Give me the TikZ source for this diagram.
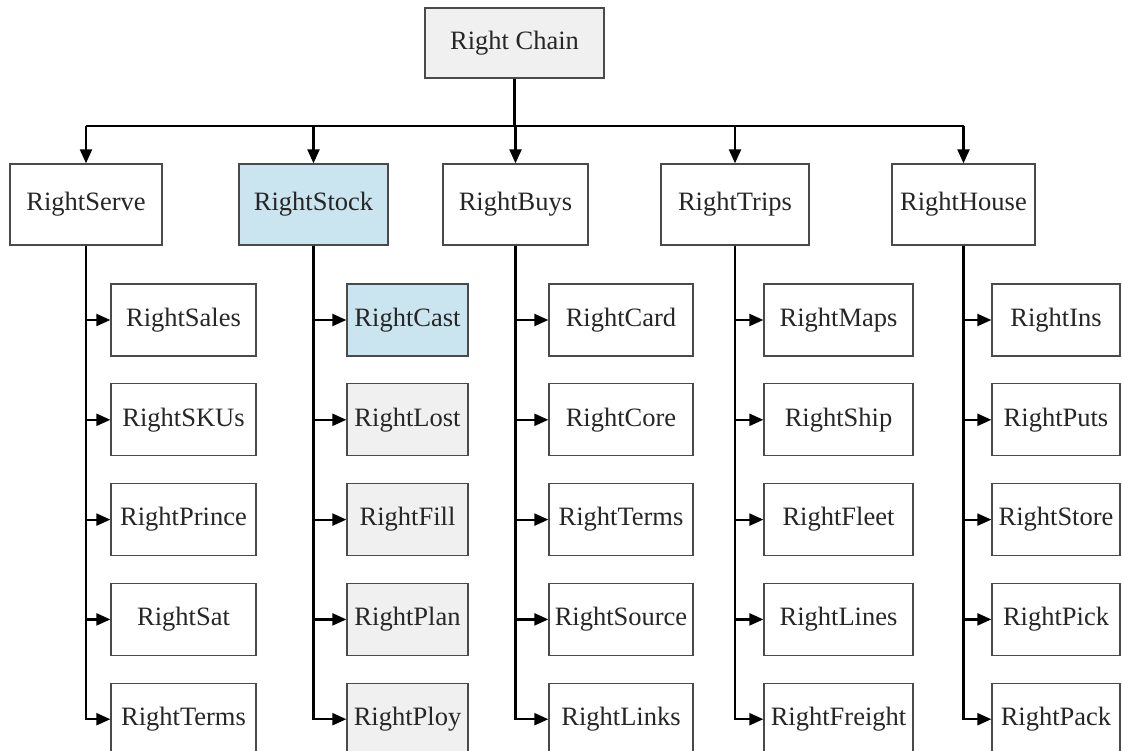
\documentclass[tikz,border=0pt]{standalone}
\usepackage{fontspec}
\setmainfont{Liberation Serif}
\usetikzlibrary{arrows.meta,positioning}
\definecolor{chainEdge} {HTML}{4A4A4A}
\definecolor{chainText} {HTML}{262626}
\definecolor{chainGray} {HTML}{F0F0F0}
\definecolor{chainBlue} {HTML}{CBE5F0}

\begin{document}
\begin{tikzpicture}[x=1pt, y=-1pt,
        every node/.style={font=\fontsize{26.5}{30}\selectfont},
        obj/.style={draw=chainEdge, line width=1.3pt, fill=white, text=chainText, inner sep=0pt, minimum height=#1},
        obj/.default=72pt,
        leaf/.style={obj, minimum width=#1},
        hub/.style={obj=81pt, minimum width=#1},
        ar/.style={-{Triangle[length=14pt,width=12pt]}, line width=2.2pt, black}
    ]
        \useasboundingbox (0,0) rectangle (1122,751);

        % top
        \node[obj=70pt, minimum width=179pt, fill=chainGray] (chain) at (514.5,43) {Right Chain};

        % second level
        \node[hub=152pt] (serve) at (86,204.5) {RightServe};
        \node[hub=149pt, fill=chainBlue] (stock) at (313.5,204.5) {RightStock};
        \node[hub=145pt] (buys) at (515.5,204.5) {RightBuys};
        \node[hub=148pt] (trips) at (735,204.5) {RightTrips};
        \node[hub=143pt] (house) at (963.5,204.5) {RightHouse};

        % RightServe
        \node[leaf=145pt] (sales) at (183.5,320) {RightSales};
        \node[leaf=145pt, below=26.5pt of sales] (skus) {RightSKUs};
        \node[leaf=145pt, below=26.5pt of skus] (prince) {RightPrince};
        \node[leaf=145pt, below=26.5pt of prince] (sat) {RightSat};
        \node[leaf=145pt, below=26.5pt of sat] (sterms) {RightTerms};

        % RightStock
        \node[leaf=121pt, fill=chainBlue] (cast) at (407.5,320) {RightCast};
        \node[leaf=121pt, fill=chainGray, below=26.5pt of cast] (lost) {RightLost};
        \node[leaf=121pt, fill=chainGray, below=26.5pt of lost] (fill) {RightFill};
        \node[leaf=121pt, fill=chainGray, below=26.5pt of fill] (plan) {RightPlan};
        \node[leaf=121pt, fill=chainGray, below=26.5pt of plan] (ploy) {RightPloy};

        % RightBuys
        \node[leaf=144pt] (card) at (621,320) {RightCard};
        \node[leaf=144pt, below=26.5pt of card] (core) {RightCore};
        \node[leaf=144pt, below=26.5pt of core] (bterms) {RightTerms};
        \node[leaf=144pt, below=26.5pt of bterms] (source) {RightSource};
        \node[leaf=144pt, below=26.5pt of source] (links) {RightLinks};

        % RightTrips
        \node[leaf=149pt] (maps) at (838.5,320) {RightMaps};
        \node[leaf=149pt, below=26.5pt of maps] (ship) {RightShip};
        \node[leaf=149pt, below=26.5pt of ship] (fleet) {RightFleet};
        \node[leaf=149pt, below=26.5pt of fleet] (lines) {RightLines};
        \node[leaf=149pt, below=26.5pt of lines] (freight) {RightFreight};

        % RightHouse
        \node[leaf=128pt] (ins) at (1056,320) {RightIns};
        \node[leaf=128pt, below=26.5pt of ins] (puts) {RightPuts};
        \node[leaf=128pt, below=26.5pt of puts] (store) {RightStore};
        \node[leaf=128pt, below=26.5pt of store] (pick) {RightPick};
        \node[leaf=128pt, below=26.5pt of pick] (pack) {RightPack};

        % bus
        \coordinate (bus) at (514.5,126);
        \draw[line width=2.2pt] (chain.south) -- (bus);
        \draw[line width=2.2pt] (serve.north |- bus) -- (house.north |- bus);
        \draw[ar] (serve.north |- bus) -- (serve.north);
        \draw[ar] (stock.north |- bus) -- (stock.north);
        \draw[ar] (buys.north |- bus) -- (buys.north);
        \draw[ar] (trips.north |- bus) -- (trips.north);
        \draw[ar] (house.north |- bus) -- (house.north);

        % branches
        \draw[ar] (serve.south) |- (sales.west);
        \draw[ar] (serve.south) |- (skus.west);
        \draw[ar] (serve.south) |- (prince.west);
        \draw[ar] (serve.south) |- (sat.west);
        \draw[ar] (serve.south) |- (sterms.west);

        \draw[ar] (stock.south) |- (cast.west);
        \draw[ar] (stock.south) |- (lost.west);
        \draw[ar] (stock.south) |- (fill.west);
        \draw[ar] (stock.south) |- (plan.west);
        \draw[ar] (stock.south) |- (ploy.west);

        \draw[ar] (buys.south) |- (card.west);
        \draw[ar] (buys.south) |- (core.west);
        \draw[ar] (buys.south) |- (bterms.west);
        \draw[ar] (buys.south) |- (source.west);
        \draw[ar] (buys.south) |- (links.west);

        \draw[ar] (trips.south) |- (maps.west);
        \draw[ar] (trips.south) |- (ship.west);
        \draw[ar] (trips.south) |- (fleet.west);
        \draw[ar] (trips.south) |- (lines.west);
        \draw[ar] (trips.south) |- (freight.west);

        \draw[ar] (house.south) |- (ins.west);
        \draw[ar] (house.south) |- (puts.west);
        \draw[ar] (house.south) |- (store.west);
        \draw[ar] (house.south) |- (pick.west);
        \draw[ar] (house.south) |- (pack.west);
    \end{tikzpicture}
\end{document}
